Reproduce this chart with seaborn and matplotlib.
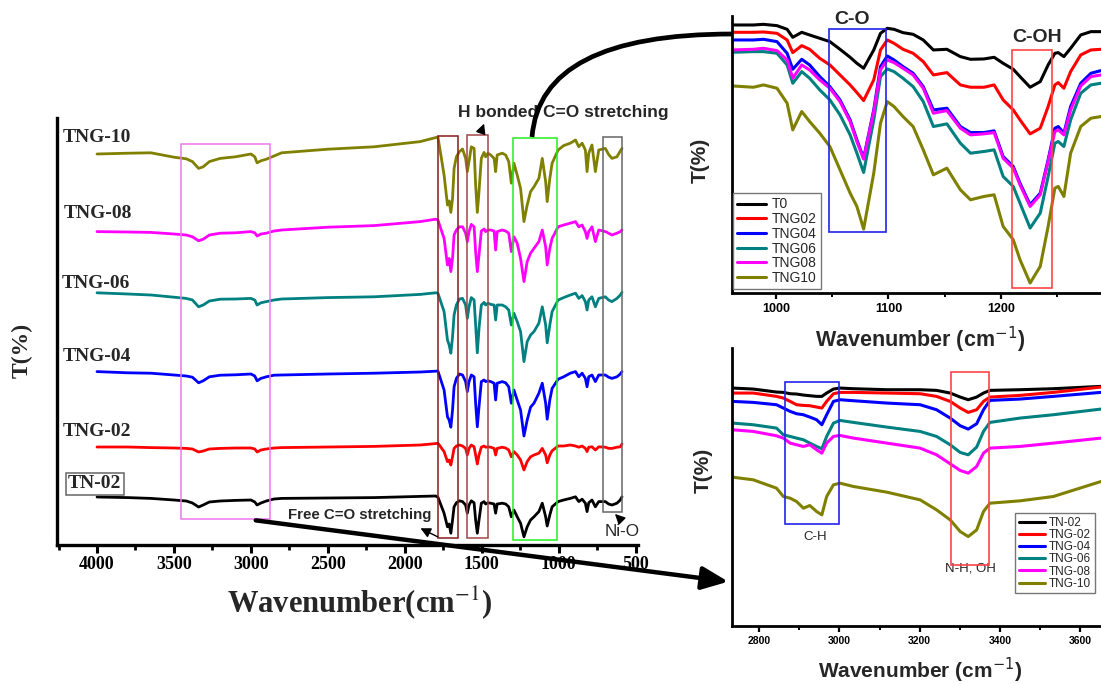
import numpy as np
import pandas as pd
import matplotlib
matplotlib.use("Agg")
import matplotlib.pyplot as plt
import seaborn as sns
from matplotlib.patches import Rectangle, FancyArrowPatch, PathPatch
from matplotlib.path import Path
from matplotlib.ticker import MultipleLocator

# ---------------- data: main FTIR panel ----------------
main_wn = [4000, 3800, 3650, 3500, 3420, 3380, 3340, 3310, 3270, 3200, 3100, 3000, 2975, 2960, 2935,
           2900, 2850, 2800, 2500, 2200, 1900, 1800,
           1785, 1745, 1723, 1712, 1701, 1690, 1680, 1665, 1645, 1625, 1605, 1594, 1583, 1568, 1550,
           1540, 1529, 1518, 1503, 1485, 1475, 1460, 1442, 1420, 1410, 1400, 1367, 1345, 1325, 1308,
           1291, 1270, 1248, 1226, 1205, 1183, 1161, 1129, 1107, 1085, 1075, 1058, 1043, 1004, 968,
           925, 891, 870, 848, 827, 816, 805, 784, 762, 740, 697, 676, 654, 622, 600, 589]
main_labels = ["TN-02", "TNG-02", "TNG-04", "TNG-06", "TNG-08", "TNG-10"]
t_tn02 = [15.75, 15.6, 15.4, 15.0, 14.75, 14.25, 13.25, 13.75, 14.5, 14.75, 14.9, 15.0, 14.5, 13.75, 14.25,
          14.75, 15.25, 15.4, 15.5, 15.6, 15.9, 16.0,
          15.7, 11.7, 8.3, 9.0, 6.7, 10.0, 13.3, 14.3, 14.8, 14.6, 13.75, 11.7, 13.75, 14.8, 14.3,
          10.0, 6.7, 10.0, 14.2, 14.6, 14.0, 14.3, 14.2, 14.0, 11.7, 14.0, 14.2, 14.0, 13.3, 10.8,
          12.5, 10.8, 9.2, 5.8, 8.3, 10.0, 10.8, 12.1, 14.2, 10.8, 8.5, 11.25, 13.3, 14.6, 15.0,
          15.4, 15.8, 14.6, 15.2, 14.2, 12.1, 14.3, 15.0, 13.3, 14.6, 14.6, 14.0, 13.75, 14.2, 15.0, 15.8]
t_tng02 = [28.25, 28.25, 28.1, 28.0, 27.9, 27.75, 27.0, 27.25, 27.75, 27.9, 28.0, 28.0, 27.75, 27.0, 27.5,
           27.75, 28.0, 28.1, 28.25, 28.4, 28.75, 29.1,
           29.2, 27.1, 24.6, 25.0, 23.75, 25.8, 27.9, 28.5, 28.75, 28.5, 27.9, 26.25, 27.9, 28.75, 28.3,
           26.25, 24.0, 26.25, 28.2, 28.5, 28.2, 28.3, 28.2, 27.9, 26.25, 27.9, 28.2, 28.0, 27.5, 25.8,
           27.1, 26.25, 25.0, 22.5, 24.6, 25.8, 26.25, 26.7, 27.9, 26.25, 24.3, 26.25, 27.3, 28.5, 28.5,
           28.75, 28.5, 28.2, 28.5, 27.9, 27.1, 28.2, 28.3, 27.5, 28.3, 28.2, 27.9, 27.9, 28.2, 28.3, 29.0]
t_tng04 = [47.1, 46.8, 46.7, 46.25, 46.0, 45.7, 44.3, 44.8, 45.8, 46.2, 46.3, 46.5, 46.0, 44.8, 45.4,
           45.8, 46.2, 46.25, 46.5, 46.7, 47.0, 47.2,
           47.25, 42.5, 35.8, 35.0, 33.2, 37.5, 43.3, 45.4, 46.5, 46.25, 44.6, 42.1, 44.6, 46.25, 45.8,
           39.2, 33.3, 38.3, 44.6, 45.0, 44.6, 44.8, 44.6, 44.2, 40.0, 44.2, 44.6, 44.3, 43.3, 39.2,
           42.5, 40.0, 37.5, 31.0, 35.0, 38.2, 39.2, 41.7, 44.2, 39.2, 35.2, 40.0, 42.9, 45.2, 45.8,
           46.7, 47.1, 45.8, 46.7, 45.4, 43.3, 45.8, 46.25, 44.6, 46.25, 46.25, 45.7, 45.4, 45.8, 46.5, 47.1]
t_tng06 = [66.8, 66.5, 66.25, 65.7, 65.4, 65.0, 63.3, 63.75, 64.75, 65.2, 65.25, 65.4, 65.0, 63.75, 64.3,
           64.6, 65.0, 65.25, 65.6, 65.8, 66.4, 66.8,
           66.7, 62.1, 55.0, 53.75, 51.7, 55.8, 61.25, 63.75, 65.25, 65.4, 63.75, 60.4, 63.3, 65.6, 65.0,
           58.75, 51.8, 57.9, 63.75, 64.4, 63.75, 64.2, 63.9, 63.75, 60.0, 63.75, 63.75, 63.3, 62.5, 58.75,
           61.7, 59.6, 57.1, 49.6, 54.6, 56.25, 57.1, 59.2, 63.3, 58.75, 54.3, 58.75, 62.1, 65.0, 65.6,
           66.25, 66.7, 65.4, 66.1, 64.6, 62.5, 65.0, 65.8, 63.3, 65.4, 65.8, 65.0, 64.6, 65.4, 66.25, 66.9]
t_tng08 = [82.1, 82.0, 81.9, 81.5, 81.25, 80.8, 79.8, 80.2, 81.25, 81.7, 81.8, 82.1, 81.8, 81.0, 81.5,
           81.7, 82.25, 82.5, 83.2, 83.6, 84.6, 85.2,
           85.0, 80.4, 73.75, 75.4, 72.1, 75.4, 81.25, 82.5, 83.3, 83.3, 81.7, 79.6, 82.1, 83.9, 83.3,
           77.1, 72.1, 76.25, 82.25, 82.75, 82.1, 82.5, 82.5, 82.25, 77.5, 82.1, 82.5, 82.25, 81.7, 77.1,
           80.8, 79.2, 75.4, 69.6, 74.6, 76.7, 77.9, 79.6, 82.5, 78.3, 73.75, 77.9, 80.4, 83.3, 83.75,
           84.2, 84.6, 83.3, 83.75, 82.1, 80.4, 82.1, 83.3, 79.6, 82.5, 82.1, 81.7, 81.25, 81.7, 82.1, 82.5]
t_tng10 = [101.5, 101.7, 101.8, 100.7, 100.3, 99.6, 97.9, 98.3, 99.6, 100.4, 100.8, 101.5, 100.8, 99.3, 99.8,
           100.2, 101.0, 101.8, 102.7, 103.3, 104.6, 105.6,
           105.75, 96.25, 88.75, 89.75, 86.9, 90.4, 97.9, 100.8, 102.1, 102.75, 100.4, 97.1, 99.6, 103.3, 102.9,
           93.75, 86.9, 92.1, 100.4, 101.9, 100.8, 101.7, 101.25, 100.4, 97.1, 101.25, 101.7, 101.25, 99.6, 94.2,
           99.2, 96.25, 92.9, 84.6, 88.75, 92.1, 93.3, 95.4, 100.4, 94.6, 89.6, 95.4, 99.2, 102.5, 103.6,
           104.2, 105.0, 103.3, 104.2, 102.5, 97.1, 101.7, 103.75, 97.1, 102.5, 102.9, 101.4, 100.4, 100.8, 102.25, 102.9]
main_ticks = [4000, 3500, 3000, 2500, 2000, 1500, 1000, 500]

# ---------------- data: inset 1 (C-O / C-OH) ----------------
in1_wn = [961, 980, 989, 1001, 1010, 1015, 1023, 1030, 1039, 1048, 1057, 1066, 1072, 1078, 1087, 1093,
          1099, 1105, 1113, 1122, 1131, 1140, 1152, 1164, 1173, 1185, 1194, 1202, 1211, 1217, 1226, 1235,
          1242, 1248, 1251, 1256, 1262, 1271, 1280, 1289]
in1_labels = ["T0", "TNG02", "TNG04", "TNG06", "TNG08", "TNG10"]
i1_t0 = [82.5, 82.5, 82.7, 82.3, 81.2, 78.8, 80.3, 79.5, 78.5, 77.5, 75.2, 72.8, 71.0, 69.5, 75.0, 80.0,
         81.5, 81.2, 80.2, 79.7, 78.0, 75.0, 75.2, 73.0, 72.2, 72.3, 72.8, 71.0, 69.2, 67.0, 63.8, 65.5,
         70.5, 74.0, 74.2, 73.0, 75.5, 79.5, 80.5, 80.5]
i1_tng02 = [80.3, 80.3, 80.4, 80.0, 78.0, 74.2, 76.3, 75.2, 72.5, 70.5, 67.5, 64.5, 62.2, 59.8, 66.0, 75.0,
            78.0, 77.0, 75.2, 74.0, 71.5, 67.5, 68.2, 64.5, 63.8, 63.8, 64.5, 60.0, 57.0, 54.0, 49.8, 51.5,
            58.0, 64.5, 65.2, 63.5, 68.5, 73.5, 75.0, 75.2]
i1_tng04 = [78.0, 78.0, 78.2, 77.5, 74.0, 69.2, 72.2, 70.5, 67.0, 64.0, 60.0, 54.0, 48.0, 42.5, 57.0, 70.0,
            73.2, 72.0, 70.0, 68.0, 64.0, 57.0, 57.5, 52.0, 50.2, 50.2, 50.7, 43.0, 40.0, 35.0, 28.5, 32.0,
            42.0, 51.5, 52.0, 50.0, 58.0, 65.0, 68.0, 68.8]
i1_tng06 = [74.3, 74.5, 74.5, 74.0, 70.5, 65.0, 68.5, 66.5, 63.0, 60.0, 55.5, 49.5, 44.0, 38.2, 54.0, 67.0,
            69.3, 68.5, 66.5, 64.0, 59.5, 52.0, 52.8, 47.0, 44.0, 44.5, 45.0, 37.0, 34.0, 29.0, 21.5, 26.0,
            37.0, 47.0, 47.5, 46.0, 54.0, 62.0, 64.5, 65.0]
i1_tng08 = [75.0, 75.2, 75.5, 74.8, 72.0, 66.5, 70.5, 69.0, 66.0, 63.5, 59.5, 53.5, 47.5, 42.2, 56.5, 69.0,
            72.0, 71.2, 69.5, 67.5, 63.5, 56.0, 56.8, 51.5, 49.5, 49.8, 50.2, 42.5, 39.5, 34.5, 28.0, 31.5,
            41.5, 50.5, 51.0, 49.5, 57.0, 64.2, 67.0, 67.5]
i1_tng10 = [64.2, 63.8, 64.5, 63.5, 59.0, 51.0, 56.5, 53.5, 50.0, 46.0, 39.0, 32.0, 28.0, 21.2, 38.0, 53.0,
            59.5, 58.0, 55.0, 52.0, 45.0, 37.5, 39.5, 33.0, 30.0, 31.0, 31.5, 22.0, 18.0, 12.0, 5.0, 10.0,
            22.0, 33.5, 34.0, 31.0, 44.0, 52.0, 54.5, 55.0]

# ---------------- data: inset 2 (C-H / N-H, OH) ----------------
in2_wn = [2733, 2785, 2843, 2860, 2877, 2893, 2910, 2926, 2943, 2956, 2968, 2985, 3001, 3035, 3118, 3201,
          3242, 3276, 3301, 3321, 3342, 3359, 3375, 3450, 3533, 3652]
in2_labels = ["TN-02", "TNG-02", "TNG-04", "TNG-06", "TNG-08", "TNG-10"]
i2_tn02 = [75.5, 75.2, 74.3, 74.2, 73.8, 73.7, 73.4, 73.2, 73.0, 73.0, 74.0, 75.2, 75.5, 75.3, 75.0, 75.0,
           74.8, 74.0, 72.8, 72.0, 72.8, 74.0, 74.8, 75.0, 75.3, 76.0]
i2_tng02 = [74.0, 74.0, 73.0, 72.5, 71.5, 70.5, 70.3, 70.2, 69.8, 69.5, 71.5, 73.8, 74.2, 74.2, 74.0, 73.8,
            73.0, 71.5, 69.5, 68.2, 69.0, 71.5, 72.8, 73.3, 74.2, 75.8]
i2_tng04 = [71.5, 71.2, 70.5, 69.5, 68.5, 67.8, 67.5, 66.8, 66.0, 64.5, 67.5, 71.5, 72.0, 71.7, 71.0, 70.5,
            69.0, 66.5, 64.2, 63.2, 64.8, 69.0, 71.8, 72.2, 73.0, 74.2]
i2_tng06 = [65.0, 64.5, 63.5, 61.5, 61.0, 60.5, 60.0, 59.0, 58.0, 57.3, 61.0, 65.0, 65.8, 65.2, 63.8, 62.5,
            61.0, 58.5, 56.2, 55.5, 57.8, 62.5, 65.2, 66.5, 67.5, 69.2]
i2_tng08 = [63.0, 62.5, 61.2, 60.5, 59.0, 58.5, 58.0, 58.5, 57.0, 56.0, 59.0, 61.0, 61.3, 60.5, 59.0, 57.5,
            55.5, 52.8, 50.8, 50.0, 52.0, 56.0, 57.5, 58.0, 59.0, 60.5]
i2_tng10 = [48.8, 48.0, 45.5, 43.0, 42.5, 41.5, 39.5, 40.3, 38.5, 37.5, 43.0, 46.5, 47.0, 46.0, 44.3, 42.0,
            39.0, 36.0, 32.5, 31.0, 33.0, 38.5, 41.0, 41.7, 43.0, 47.5]

colors = ["#000000", "#ff0000", "#0000ff", "#008080", "#ff00ff", "#808000"]

# ---------------- figure ----------------
sns.set_theme(style="white")
plt.rcParams["font.family"] = ["Liberation Sans", "DejaVu Sans"]
plt.rcParams["mathtext.fontset"] = "stix"

W, H = 1101, 684
fig = plt.figure(figsize=(W / 100, H / 100), dpi=100)
fig.patch.set_facecolor("white")


def rect(l, t, r, b):
    return [l / W, 1 - b / H, (r - l) / W, (b - t) / H]


def fp(x, y):
    return (x / W, 1 - y / H)


SERIF = "Liberation Serif"

# ---- main panel ----
ax = fig.add_axes(rect(57, 118, 638, 545))
main_df = pd.DataFrame({"wn": main_wn})
for lab, vals in zip(main_labels, [t_tn02, t_tng02, t_tng04, t_tng06, t_tng08, t_tng10]):
    main_df[lab] = vals
for lab, col in zip(main_labels, colors):
    sns.lineplot(data=main_df, x="wn", y=lab, ax=ax, color=col, linewidth=2.0,
                 estimator=None, legend=False)
ax.set_xlim(4260, 485)
ax.set_ylim(3.75, 110.5)
ax.set_xlabel("")
ax.set_ylabel("")
ax.set_yticks([])
for s in ["top", "right"]:
    ax.spines[s].set_visible(False)
for s in ["left", "bottom"]:
    ax.spines[s].set_linewidth(2.4)
    ax.spines[s].set_color("black")
ax.set_xticks(main_ticks)
ax.set_xticklabels([str(t) for t in main_ticks], fontfamily=SERIF, fontweight="bold", fontsize=13)
ax.xaxis.set_minor_locator(MultipleLocator(250))
ax.tick_params(axis="x", which="major", bottom=True, direction="out", length=6, width=2.2, pad=2, colors="black")
ax.tick_params(axis="x", which="minor", bottom=True, direction="out", length=3.5, width=2.0, colors="black")
ax.set_facecolor("white")

# boxes in main panel
main_boxes = [(2874, 3457, 10.25, 104.0, "#ee77ee"),
              (1656, 1785, 5.5, 106.0, "#8b1a1a"),
              (1461, 1597, 5.5, 106.25, "#a04848"),
              (1009, 1300, 5.0, 105.5, "#22ee22"),
              (591, 713, 12.0, 105.75, "#666666")]
for x0, x1, y0, y1, c in main_boxes:
    ax.add_patch(Rectangle((x0, y0), x1 - x0, y1 - y0, fill=False, edgecolor=c, linewidth=1.1, zorder=5))

# curve labels
lbl_kw = dict(fontfamily=SERIF, fontweight="bold", fontsize=14, ha="left", va="center")
fig.text(*fp(63, 138), "TNG-10", **lbl_kw)
fig.text(*fp(64, 214), "TNG-08", **lbl_kw)
fig.text(*fp(62, 283), "TNG-06", **lbl_kw)
fig.text(*fp(63, 357), "TNG-04", **lbl_kw)
fig.text(*fp(63, 431), "TNG-02", **lbl_kw)
fig.text(*fp(68, 484), "TN-02", fontfamily=SERIF, fontweight="bold", fontsize=14, ha="left", va="center",
         bbox=dict(boxstyle="square,pad=0.12", facecolor="white", edgecolor="#666666", linewidth=1.1))

fig.text(*fp(22, 350), "T(%)", rotation=90, fontfamily=SERIF, fontweight="bold", fontsize=17,
         ha="center", va="center")
fig.text(*fp(360, 603), "Wavenumber(cm$^{-1}$)", fontfamily=SERIF, fontweight="bold", fontsize=22,
         ha="center", va="center")

# annotations
fig.text(*fp(458, 113), "H bonded C=O stretching", fontweight="bold", fontsize=12.5, ha="left", va="center")
fig.text(*fp(288, 515), "Free C=O stretching", fontweight="bold", fontsize=10.8, ha="left", va="center")
fig.text(*fp(605, 531), "Ni-O", fontsize=12.3, ha="left", va="center")
for a, b in [((480, 135), (485, 121)), ((440, 538), (418, 527)), ((622, 521), (613, 512))]:
    fig.add_artist(FancyArrowPatch(fp(*a), fp(*b), transform=fig.transFigure,
                                   arrowstyle="-|>,head_length=0.6,head_width=0.3",
                                   mutation_scale=10, linewidth=1.0, color="black"))

# big arrow to inset 2
fig.add_artist(FancyArrowPatch(fp(253, 520), fp(731, 582), transform=fig.transFigure,
                               arrowstyle="-|>,head_length=0.8,head_width=0.35",
                               mutation_scale=20, linewidth=3.2, color="black", zorder=10))
# arc to inset 1
arc = Path([fp(532, 137), fp(540, 34), fp(732, 34)], [Path.MOVETO, Path.CURVE3, Path.CURVE3])
fig.add_artist(PathPatch(arc, transform=fig.transFigure, fill=False, linewidth=3.4,
                         edgecolor="black", zorder=10))


def style_inset(a, lblsize):
    for s in ["top", "right"]:
        a.spines[s].set_visible(False)
    for s in ["left", "bottom"]:
        a.spines[s].set_linewidth(2.0)
        a.spines[s].set_color("black")
    a.set_yticks([])
    a.set_xlabel("")
    a.set_ylabel("")
    a.tick_params(axis="x", which="major", bottom=True, direction="out", length=4, width=1.6,
                  pad=3, labelsize=lblsize, colors="black")
    a.tick_params(axis="x", which="minor", bottom=True, direction="out", length=3, width=1.4, colors="black")
    for t in a.get_xticklabels():
        t.set_fontweight("bold")
    a.set_facecolor("none")


# ---- inset 1 ----
ax1 = fig.add_axes(rect(732, 16, 1101, 293))
in1_df = pd.DataFrame({"wn": in1_wn})
for lab, vals in zip(in1_labels, [i1_t0, i1_tng02, i1_tng04, i1_tng06, i1_tng08, i1_tng10]):
    in1_df[lab] = vals
for lab, col in zip(in1_labels, colors):
    sns.lineplot(data=in1_df, x="wn", y=lab, ax=ax1, color=col, linewidth=2.2,
                 estimator=None, label=lab, legend=False)
ax1.set_xlim(961, 1289)
ax1.set_ylim(2.0, 85.2)
ax1.xaxis.set_major_locator(MultipleLocator(100))
ax1.xaxis.set_minor_locator(MultipleLocator(50))
style_inset(ax1, 9)
ax1.add_patch(Rectangle((1047, 20.3), 51, 60.9, fill=False, edgecolor="#2222ee", linewidth=1.2, zorder=5))
ax1.add_patch(Rectangle((1210, 3.4), 35, 71.6, fill=False, edgecolor="#ff4444", linewidth=1.2, zorder=5))
ax1.text(1068, 84.2, "C-O", fontweight="bold", fontsize=14, ha="center", va="center")
ax1.text(1232, 78.8, "C-OH", fontweight="bold", fontsize=14, ha="center", va="center")
leg1 = ax1.legend(handles=ax1.get_lines()[:6], labels=in1_labels, loc="lower left",
                  bbox_to_anchor=(0.003, 0.014), borderaxespad=0, fontsize=10, labelspacing=0.05,
                  handlelength=2.1, handletextpad=0.4, borderpad=0.3, fancybox=False,
                  edgecolor="#777777", framealpha=1)
leg1.get_frame().set_linewidth(1.0)

fig.text(*fp(700, 160), "T(%)", rotation=90, fontweight="bold", fontsize=15, ha="center", va="center")
fig.text(*fp(920, 340), "Wavenumber (cm$^{-1}$)", fontweight="bold", fontsize=15.5, ha="center",
         va="center", math_fontfamily="dejavusans")

# ---- inset 2 ----
ax2 = fig.add_axes(rect(732, 348, 1101, 626))
in2_df = pd.DataFrame({"wn": in2_wn})
for lab, vals in zip(in2_labels, [i2_tn02, i2_tng02, i2_tng04, i2_tng06, i2_tng08, i2_tng10]):
    in2_df[lab] = vals
for lab, col in zip(in2_labels, colors):
    sns.lineplot(data=in2_df, x="wn", y=lab, ax=ax2, color=col, linewidth=2.2,
                 estimator=None, label=lab, legend=False)
ax2.set_xlim(2732, 3652)
ax2.set_ylim(4.2, 87.5)
ax2.xaxis.set_major_locator(MultipleLocator(200))
ax2.xaxis.set_minor_locator(MultipleLocator(100))
style_inset(ax2, 7.5)
ax2.add_patch(Rectangle((2864, 34.8), 135, 42.4, fill=False, edgecolor="#2222ee", linewidth=1.2, zorder=5))
ax2.add_patch(Rectangle((3277, 22.5), 97, 57.8, fill=False, edgecolor="#ff4444", linewidth=1.2, zorder=5))
ax2.text(2940, 31, "C-H", fontsize=9.5, ha="center", va="center")
ax2.text(3326, 21.5, "N-H, OH", fontsize=9.5, ha="center", va="center")
leg2 = ax2.legend(handles=ax2.get_lines()[:6], labels=in2_labels, loc="upper left",
                  bbox_to_anchor=(0.767, 0.406), borderaxespad=0, fontsize=8.5, labelspacing=0.02,
                  handlelength=2.2, handletextpad=0.4, borderpad=0.3, fancybox=False,
                  edgecolor="#777777", framealpha=1)
leg2.get_frame().set_linewidth(1.0)

fig.text(*fp(703, 470), "T(%)", rotation=90, fontweight="bold", fontsize=15, ha="center", va="center")
fig.text(*fp(920, 670), "Wavenumber (cm$^{-1}$)", fontweight="bold", fontsize=15, ha="center",
         va="center", math_fontfamily="dejavusans")

fig.savefig("out.png", dpi=100)
